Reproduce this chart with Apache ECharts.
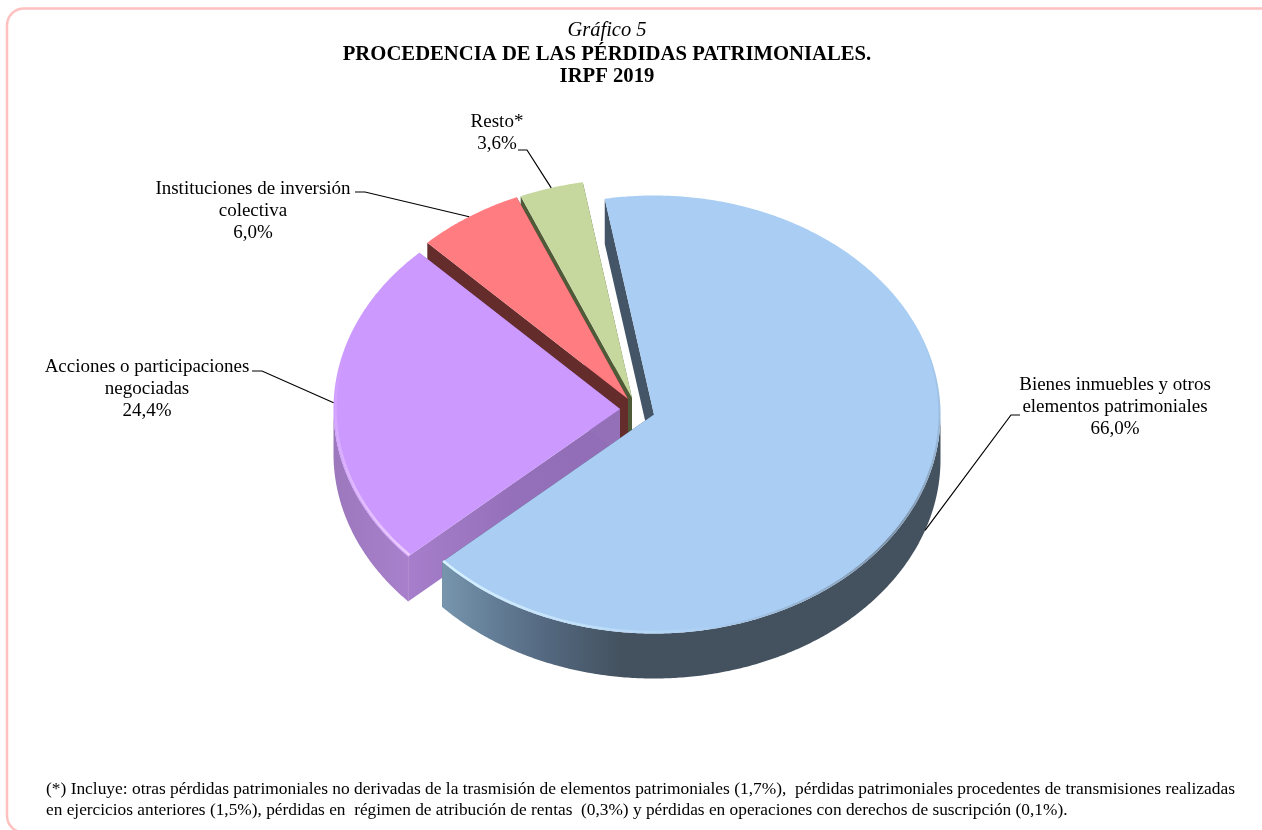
<!DOCTYPE html>
<html><head><meta charset="utf-8">
<style>html,body{margin:0;padding:0;background:#fff}#c{width:1262px;height:830px}</style>
<script src="https://cdn.jsdelivr.net/npm/echarts@6/dist/echarts.min.js"></script>
</head><body><div id="c"></div>
<script>
const categories = ['Bienes inmuebles y otros\nelementos patrimoniales', 'Acciones o participaciones\nnegociadas', 'Instituciones de inversión\ncolectiva', 'Resto*'];
const values = [66.0, 24.4, 6.0, 3.6];
const valueLabels = ['66,0%', '24,4%', '6,0%', '3,6%'];
const titleLines = ['Gráfico 5', 'PROCEDENCIA DE LAS PÉRDIDAS PATRIMONIALES.', 'IRPF 2019'];
const footnoteLines = [
  '(*) Incluye: otras pérdidas patrimoniales no derivadas de la trasmisión de elementos patrimoniales (1,7%),  pérdidas patrimoniales procedentes de transmisiones realizadas',
  'en ejercicios anteriores (1,5%), pérdidas en  régimen de atribución de rentas  (0,3%) y pérdidas en operaciones con derechos de suscripción (0,1%).'
];

// Layout and style, separate from the data
const FONT = '"Liberation Serif","Times New Roman",serif';
const RX = 286.5, RY = 219, DEPTH = 45, START = -9.9;
const apexes = [[654, 414.5], [620, 409], [628, 399], [632, 398]];
const topColors = ['#a9cdf3', '#cc99ff', '#ff7c80', '#c6d89e'];
const faceColors = ['#435567', '#9370b8', '#652c2c', '#4f5a38'];
const rimStops = [
  [[0, '#7796ad'], [0.1, '#647e97'], [0.22, '#52667d'], [0.36, '#44525f'], [1, '#44525f']],
  [[0, '#9c78bd'], [1, '#a880cc']],
  [[0, '#652c2c'], [1, '#652c2c']],
  [[0, '#4f5a38'], [1, '#4f5a38']]
];
const labelCenters = [[1115, 407], [147, 389], [253, 211], [497, 133]];
const leaderElbows = [[[1011, 415], [1020, 415]], [[262, 371], [252, 371]], [[365, 192], [355, 192]], [[527, 150], [518, 150]]];
const highlights = [
  [{from: 227.7, to: 165, color: '#d8f2ff', inset: 1.5, width: 2.5}, {from: 170, to: 70, color: '#7d92a8', inset: 1, width: 2, both: true}],
  [{from: 227.7, to: 285, color: '#ecccff', inset: 2, width: 2.5}]
];

const total = values.reduce((a, b) => a + b, 0);
function angles(i) {
  let a = START;
  for (let k = 0; k < i; k++) a += values[k] / total * 360;
  return [a, a + values[i] / total * 360];
}
function pt(c, t, dy, inset) {
  const r = t * Math.PI / 180, k = inset || 0;
  return [c[0] + (RX - k) * Math.sin(r), c[1] - (RY - k) * Math.cos(r) + (dy || 0)];
}
function arc(c, a, b, dy, inset) {
  const n = Math.max(2, Math.ceil(Math.abs(b - a) * 2)), pts = [];
  for (let i = 0; i <= n; i++) pts.push(pt(c, a + (b - a) * i / n, dy, inset));
  return pts;
}
function grad(stops, xa, xb) {
  return {type: 'linear', x: xa, y: 0, x2: xb, y2: 0, global: true,
    colorStops: stops.map(s => ({offset: s[0], color: s[1]}))};
}
function renderSlice(params, api) {
  const i = api.value(0);
  const c = apexes[i], [a, b] = angles(i), kids = [];
  // cut faces
  [a, b].forEach(t => {
    const o = pt(c, t);
    const fill = (i === 1 && t === a)
      ? grad([[0, '#a67ecb'], [0.5, '#9570ba'], [1, '#906db6']], o[0], c[0])
      : faceColors[i];
    kids.push({type: 'polygon', shape: {points: [c, o, [o[0], o[1] + DEPTH], [c[0], c[1] + DEPTH]]}, style: {fill: fill}});
  });
  // outer rim: only the part of the arc that faces the viewer
  const fa = Math.max(a, 90), fb = Math.min(b, 270);
  if (fb > fa) {
    const upper = arc(c, fa, fb, 0), lower = arc(c, fb, fa, DEPTH);
    const xs = upper.map(p => p[0]);
    kids.push({type: 'polygon', shape: {points: upper.concat(lower)},
      style: {fill: grad(rimStops[i], Math.min(...xs), Math.max(...xs))}});
  }
  // top
  const wedge = [c].concat(arc(c, a, b, 0));
  kids.push({type: 'polygon', shape: {points: wedge}, style: {fill: topColors[i]}});
  // bevel highlights along the edge of the top
  (highlights[i] || []).forEach(h => {
    const pts = arc(c, h.from, h.to, 0, h.inset);
    const p0 = pts[0], p1 = pts[pts.length - 1];
    const clear = h.color + '00';
    const stops = h.both
      ? [{offset: 0, color: clear}, {offset: 0.5, color: h.color}, {offset: 1, color: clear}]
      : [{offset: 0, color: h.color}, {offset: 1, color: clear}];
    kids.push({type: 'polyline', shape: {points: pts}, style: {fill: null, lineWidth: h.width,
      stroke: {type: 'linear', x: p0[0], y: p0[1], x2: p1[0], y2: p1[1], global: true, colorStops: stops}}});
  });
  // leader line, anchored at the mid angle of the slice
  const m = (a + b) / 2, onFront = m > 90 && m < 270;
  const anchor = pt(c, m, onFront ? DEPTH : 0);
  kids.push({type: 'polyline', z2: 10, shape: {points: [anchor].concat(leaderElbows[i])}, style: {fill: null, stroke: '#000', lineWidth: 1.2}});
  // label
  kids.push({type: 'text', z2: 11, x: labelCenters[i][0], y: labelCenters[i][1], style: {
    text: categories[i] + '\n' + valueLabels[i], fill: '#000', font: '19px ' + FONT,
    lineHeight: 22, align: 'center', verticalAlign: 'middle'}});
  return {type: 'group', children: kids};
}

const drawOrder = values.map((v, i) => i).reverse();
const chart = echarts.init(document.getElementById('c'), null, {renderer: 'canvas', width: 1262, height: 830});
chart.setOption({
  animation: false,
  backgroundColor: '#fff',
  graphic: [
    {type: 'rect', z: 0, shape: {x: 7, y: 8.5, width: 1270, height: 824, r: 17}, style: {fill: '#fff', stroke: '#ffc0c0', lineWidth: 2.5}},
    {type: 'text', x: 607, y: 30.5, style: {text: titleLines[0], font: 'italic 20.5px ' + FONT, fill: '#000', align: 'center', verticalAlign: 'middle'}},
    {type: 'text', x: 607, y: 54.5, style: {text: titleLines[1], font: 'bold 20.7px ' + FONT, fill: '#000', align: 'center', verticalAlign: 'middle'}},
    {type: 'text', x: 607, y: 76.5, style: {text: titleLines[2], font: 'bold 20.7px ' + FONT, fill: '#000', align: 'center', verticalAlign: 'middle'}},
    {type: 'text', x: 46, y: 789, style: {text: footnoteLines[0], font: '17.4px ' + FONT, fill: '#000', align: 'left', verticalAlign: 'middle'}},
    {type: 'text', x: 46, y: 810, style: {text: footnoteLines[1], font: '17.32px ' + FONT, fill: '#000', align: 'left', verticalAlign: 'middle'}}
  ],
  xAxis: {show: false}, yAxis: {show: false},
  grid: {left: 0, right: 0, top: 0, bottom: 0},
  series: [{type: 'custom', coordinateSystem: 'none', renderItem: renderSlice, silent: true, z: 5,
    encode: {}, data: drawOrder.map(i => [i, values[i]])}]
});
</script></body></html>
